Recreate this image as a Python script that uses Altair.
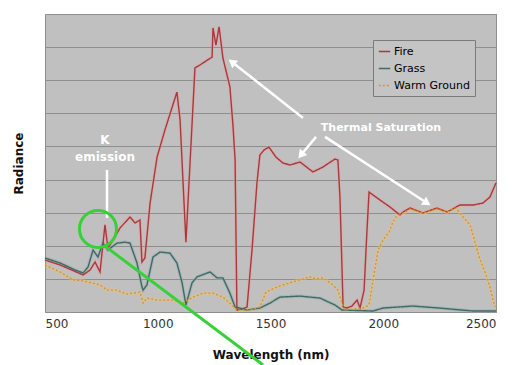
import math
import altair as alt
import pandas as pd

# ---------------- data ----------------
fire_nm = [500, 567, 669, 700, 722, 744, 766, 779, 802, 833, 877, 899, 921, 930, 943, 966, 997, 1032, 1085, 1099,
           1116, 1125, 1165, 1187, 1241, 1245, 1258, 1272, 1289, 1320, 1334, 1343, 1351, 1374, 1396, 1418, 1440, 1453,
           1471, 1493, 1524, 1555, 1586, 1631, 1688, 1733, 1786, 1799, 1808, 1822, 1839, 1861, 1884, 1897, 1915, 1928,
           1937, 1986, 2030, 2074, 2088, 2119, 2176, 2238, 2283, 2340, 2398, 2442, 2473, 2500]
fire_rad = [1.57, 1.42, 1.12, 1.27, 1.51, 1.21, 2.63, 1.93, 2.17, 2.54, 2.87, 2.69, 2.78, 1.51, 1.63, 3.29, 4.68, 5.50,
            6.64, 5.80, 3.38, 2.11, 7.37, 7.46, 7.70, 8.58, 8.06, 8.61, 7.67, 6.80, 5.59, 4.59, 0.06, 0.09, 0.15, 1.87,
            3.90, 4.74, 4.89, 4.98, 4.68, 4.50, 4.44, 4.53, 4.23, 4.38, 4.62, 4.59, 3.47, 0.15, 0.12, 0.18, 0.36, 0.12,
            0.66, 2.48, 3.62, 3.38, 3.17, 2.93, 3.02, 3.14, 2.99, 3.14, 3.02, 3.23, 3.23, 3.29, 3.47, 3.90]

grass_nm = [500, 567, 633, 669, 691, 713, 735, 757, 779, 819, 855, 877, 908, 930, 935, 952, 979, 1010, 1054, 1085,
            1108, 1125, 1152, 1174, 1232, 1263, 1289, 1320, 1343, 1396, 1453, 1498, 1542, 1631, 1720, 1786, 1817,
            1955, 1999, 2132, 2247, 2398, 2500]
grass_rad = [1.63, 1.48, 1.27, 1.18, 1.36, 1.87, 1.66, 2.08, 1.87, 2.08, 2.11, 2.08, 1.48, 0.76, 0.66, 0.82, 1.66,
             1.81, 1.78, 1.48, 0.88, 0.21, 0.88, 1.06, 1.21, 1.03, 1.03, 0.57, 0.15, 0.06, 0.12, 0.27, 0.45, 0.48,
             0.42, 0.21, 0.06, 0.03, 0.12, 0.18, 0.12, 0.03, 0.03]

warm_nm = [500, 567, 624, 669, 744, 775, 819, 864, 890, 921, 935, 952, 997, 1068, 1112, 1156, 1201, 1245, 1289, 1329,
           1351, 1409, 1453, 1480, 1498, 1542, 1600, 1675, 1702, 1733, 1777, 1799, 1817, 1830, 1910, 1937, 1955, 1977,
           1999, 2026, 2043, 2057, 2088, 2119, 2176, 2238, 2283, 2323, 2354, 2385, 2398, 2425, 2456, 2473, 2487, 2496]
warm_rad = [1.42, 1.21, 0.97, 0.94, 0.82, 0.66, 0.66, 0.54, 0.57, 0.60, 0.27, 0.42, 0.36, 0.36, 0.27, 0.45, 0.57,
            0.57, 0.45, 0.21, 0.06, 0.06, 0.15, 0.60, 0.66, 0.79, 0.91, 1.06, 1.00, 1.03, 0.82, 0.66, 0.27, 0.06,
            0.12, 0.21, 0.97, 1.87, 2.17, 2.42, 2.72, 2.87, 2.99, 3.11, 2.99, 3.11, 3.02, 3.14, 2.87, 2.63, 2.33,
            1.66, 1.12, 0.76, 0.36, 0.15]

series_names = ["Fire", "Grass", "Warm Ground"]
series_colors = ["#a63a3c", "#3f6a66", "#cf9636"]
halo_colors = ["#e8a0a4", "#8fb0ac", "#f0c070"]
series_dash = [[1, 0], [1, 0], [2, 2]]

x_ticks = [500, 1000, 1500, 2000, 2500]
y_grid = [0, 1, 2, 3, 4, 5, 6, 7, 8, 9]

# annotations (data coordinates)
k_label_nm = [766, 766]
k_label_rad = [5.19, 4.68]
k_label_txt = ["K", "emission"]
k_pointer = {"x": 775, "y": 4.29, "x2": 775, "y2": 2.84}
circle_nm, circle_rad = [735], [2.51]
green_line = {"x": 766, "y": 1.99, "x2": 1467, "y2": -1.60}
thermal_nm, thermal_rad = [1990], [5.56]
arrow_x1 = [1644, 1702, 1742]
arrow_y1 = [5.86, 5.29, 5.29]
arrow_x2 = [1329, 1635, 2194]
arrow_y2 = [7.55, 4.74, 3.29]

# ---------------- build tables ----------------
rows = []
for name, xs_, ys_ in zip(series_names, [fire_nm, grass_nm, warm_nm], [fire_rad, grass_rad, warm_rad]):
    assert len(xs_) == len(ys_)
    for x, y in zip(xs_, ys_):
        rows.append({"series": name, "nm": x, "rad": y})
df = pd.DataFrame(rows)

W, H = 451, 298
XMIN, XMAX, YMIN, YMAX = 500, 2500, 0, 9
px_nm = W / (XMAX - XMIN)
px_rad = H / (YMAX - YMIN)
arrows = []
for x1, y1, x2, y2 in zip(arrow_x1, arrow_y1, arrow_x2, arrow_y2):
    dx = (x2 - x1) * px_nm
    dy = -(y2 - y1) * px_rad
    ang = math.degrees(math.atan2(dx, -dy)) % 360
    arrows.append({"x": x1, "y": y1, "x2": x2, "y2": y2, "ang": ang})
arr_df = pd.DataFrame(arrows)

xs = alt.Scale(domain=[XMIN, XMAX], nice=False, zero=False)
ys = alt.Scale(domain=[YMIN, YMAX], nice=False, zero=False)
x_axis = alt.Axis(
    values=x_ticks, format="d", title="Wavelength (nm)", grid=False, ticks=False, tickSize=0, domain=False,
    labelFont="DejaVu Sans", labelFontSize=12, labelColor="#333333", labelPadding=6,
    titleFont="DejaVu Sans", titleFontSize=12, titleFontWeight="bold", titleColor="#111111", titlePadding=20)
y_axis = alt.Axis(
    values=y_grid, title="Radiance", labels=False, ticks=False, tickSize=0, domain=False, grid=True,
    gridColor="#8e8e8e", gridWidth=1.2,
    titleFont="DejaVu Sans", titleFontSize=12, titleFontWeight="bold", titleColor="#111111", titlePadding=20)


def X(f):
    return alt.X(f"{f}:Q", scale=xs, axis=x_axis)


def Y(f):
    return alt.Y(f"{f}:Q", scale=ys, axis=y_axis)


halos = [
    alt.Chart(df).transform_filter(alt.datum.series == name).mark_line(
        strokeWidth=3.5, opacity=0.45, color=hc).encode(x=X("nm"), y=Y("rad"))
    for name, hc in zip(series_names, halo_colors)
]

legend = alt.Legend(title=None, orient="none", legendX=328, legendY=26,
                    fillColor="#c4c4c4", strokeColor="#7a7a7a", padding=5,
                    labelFont="DejaVu Sans", labelFontSize=11, labelColor="#000000",
                    symbolType="stroke", symbolSize=130, symbolStrokeWidth=1.5,
                    rowPadding=5, labelOffset=3)

main = alt.Chart(df).mark_line(strokeWidth=1.4).encode(
    x=X("nm"), y=Y("rad"),
    color=alt.Color("series:N", scale=alt.Scale(domain=series_names, range=series_colors), legend=legend),
    strokeDash=alt.StrokeDash("series:N", scale=alt.Scale(domain=series_names, range=series_dash), legend=legend))

k_df = pd.DataFrame({"nm": k_label_nm, "rad": k_label_rad, "t": k_label_txt})
k_text = alt.Chart(k_df).mark_text(font="DejaVu Sans", fontSize=12, fontWeight="bold", color="white").encode(
    x=X("nm"), y=Y("rad"), text="t:N")

k_rule = alt.Chart(pd.DataFrame([k_pointer])).mark_rule(color="white", strokeWidth=2.5).encode(
    x=X("x"), y=Y("y"), x2="x2:Q", y2="y2:Q")

circ = alt.Chart(pd.DataFrame({"nm": circle_nm, "rad": circle_rad})).mark_point(
    shape="circle", filled=False, size=1370, color="#38d038", strokeWidth=3, opacity=1).encode(
    x=X("nm"), y=Y("rad"))

gline = alt.Chart(pd.DataFrame([green_line])).mark_rule(color="#38d038", strokeWidth=3).encode(
    x=X("x"), y=Y("y"), x2="x2:Q", y2="y2:Q")

thermal = alt.Chart(pd.DataFrame({"nm": thermal_nm, "rad": thermal_rad, "t": ["Thermal Saturation"]})).mark_text(
    font="DejaVu Sans", fontSize=11, fontWeight="bold", color="white").encode(
    x=X("nm"), y=Y("rad"), text="t:N")

arr_lines = alt.Chart(arr_df).mark_rule(color="white", strokeWidth=2.5).encode(
    x=X("x"), y=Y("y"), x2="x2:Q", y2="y2:Q")
arr_heads = alt.Chart(arr_df).mark_point(shape="triangle-up", filled=True, color="white", size=90, opacity=1).encode(
    x=X("x2"), y=Y("y2"), angle=alt.Angle("ang:Q", scale=None))

chart = alt.layer(*halos, main, k_rule, k_text, thermal, arr_lines, arr_heads, circ, gline).properties(
    width=W, height=H,
    autosize=alt.AutoSizeParams(type="none"),
    padding={"left": 37, "top": 6, "right": 8, "bottom": 53},
    background="white",
).configure_view(fill="#c0c0c0", stroke="#8e8e8e", strokeWidth=1)

chart.save("out.html", embed_options={"renderer": "svg", "actions": False})
